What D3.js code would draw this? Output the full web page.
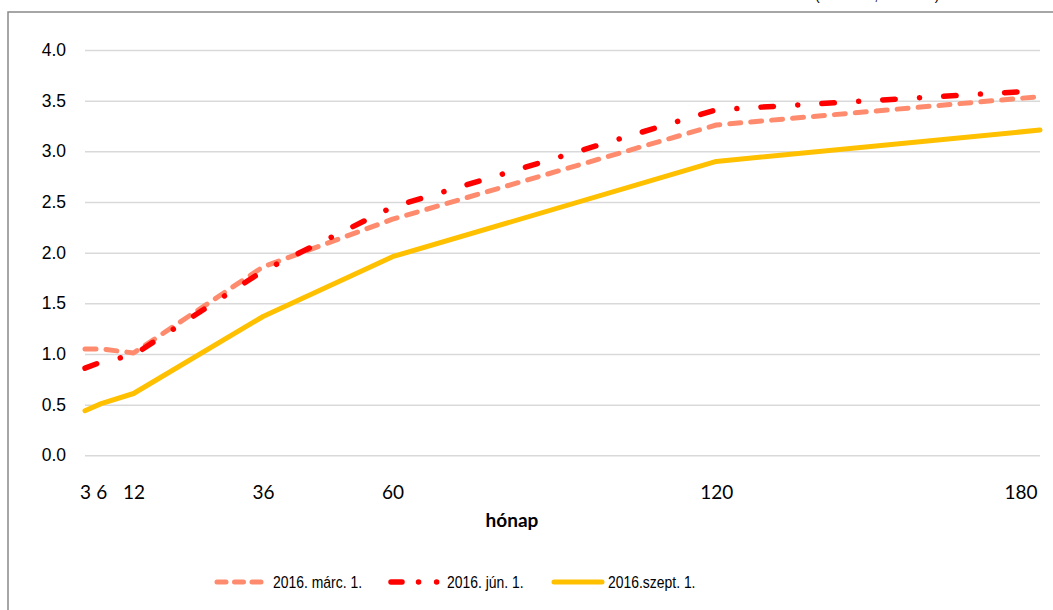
<!DOCTYPE html>
<html><head><meta charset="utf-8">
<script src="https://cdn.jsdelivr.net/npm/d3@7"></script>
<style>body{margin:0;background:#fff;overflow:hidden}svg{display:block}</style>
</head><body><svg id="c" width="1053" height="610"></svg>
<script>
const months = [3, 6, 12, 36, 60, 120, 180];
const xTicks = [3, 6, 12, 36, 60, 120, 180];
const yTicks = [0, 0.5, 1, 1.5, 2, 2.5, 3, 3.5, 4];
const seriesNames = ["2016. márc. 1.", "2016. jún. 1.", "2016.szept. 1."];
const marValues  = [1.05, 1.05, 1.01, 1.86, 2.33, 3.26, 3.54];
const junValues  = [0.86, 0.92, 0.99, 1.82, 2.45, 3.41, 3.60];
const szeptValues = [0.44, 0.51, 0.61, 1.37, 1.96, 2.90, 3.21];
const colors = ["#FF8B6E", "#FF0000", "#FFC000"];

const series = [
  {name: seriesNames[0], values: marValues, color: colors[0], width: 5, dash: "11,10"},
  {name: seriesNames[1], values: junValues, color: colors[1], width: 5.5, dash: "12.5,24.3,0.1,24.1"},
  {name: seriesNames[2], values: szeptValues, color: colors[2], width: 5, dash: null}
];

const svg = d3.select("#c");
const x = d3.scaleLinear().domain([3, 180]).range([85, 1040]);
const y = d3.scaleLinear().domain([0, 4]).range([455.3, 50]);

// frame
svg.append("rect").attr("x", 8).attr("y", 12).attr("width", 1100).attr("height", 700)
  .attr("fill", "none").attr("stroke", "#898989").attr("stroke-width", 1.5);

// title remnant (cut off at the top edge, as in the reference)
svg.append("text").attr("x", 815).attr("y", 0).attr("font-family", "Liberation Sans, Arial, sans-serif")
  .attr("font-size", 14).attr("fill", "#000").text("(százalék, évesített)");

// gridlines + y labels
const yAxis = d3.axisLeft(y).tickValues(yTicks).tickFormat(d3.format(".1f")).tickSize(-(1040 - 85)).tickPadding(19);
const gy = svg.append("g").attr("transform", "translate(85,0)").call(yAxis);
gy.select(".domain").remove();
gy.selectAll(".tick line").attr("stroke", "#d9d9d9").attr("stroke-width", 1.5);
gy.selectAll(".tick text").attr("font-family", "Liberation Sans, Arial, sans-serif").attr("font-size", 17.5).attr("fill", "#000");

// x labels
const xAxis = d3.axisBottom(x).tickValues(xTicks).tickFormat(d3.format("d")).tickSize(0).tickPadding(0);
const gx = svg.append("g").attr("transform", "translate(0,481)").call(xAxis);
gx.select(".domain").remove();
gx.selectAll(".tick text").attr("font-family", "Lato, 'Open Sans', sans-serif")
  .attr("font-size", 19).attr("fill", "#000").attr("dy", "0.95em");
gx.selectAll(".tick").filter(d => d === 180).select("text").attr("text-anchor", "end").attr("dx", -3);

svg.append("text").attr("x", 512).attr("y", 527).attr("text-anchor", "middle")
  .attr("font-family", "Lato, 'Open Sans', sans-serif").attr("font-weight", "bold")
  .attr("font-size", 19).attr("fill", "#000").text("hónap");

// lines
const line = d3.line().x((d, i) => x(months[i])).y(d => y(d));
series.forEach(s => {
  const p = svg.append("path").datum(s.values).attr("d", line)
    .attr("fill", "none").attr("stroke", s.color).attr("stroke-width", s.width)
    .attr("stroke-linecap", "round").attr("stroke-linejoin", "round");
  if (s.dash) p.attr("stroke-dasharray", s.dash);
});

// legend
const legX = [215, 389, 552];
const legText = [273, 447, 608];
const legW = [48, 56, 52];
series.forEach((s, i) => {
  const l = svg.append("line").attr("x1", legX[i] + 2).attr("x2", legX[i] + legW[i] - 2)
    .attr("y1", 582).attr("y2", 582).attr("stroke", s.color).attr("stroke-width", s.width)
    .attr("stroke-linecap", "round");
  if (i === 0) l.attr("stroke-dasharray", "9,8.5");
  if (i === 1) l.attr("stroke-dasharray", "11,16.5,0.1,18,0.1,40");
  svg.append("text").attr("transform", `translate(${legText[i]},588) scale(0.82,1)`)
    .attr("font-family", "'Liberation Sans', Arial, sans-serif")
    .attr("font-size", 17).attr("fill", "#000").text(s.name);
});
</script></body></html>
